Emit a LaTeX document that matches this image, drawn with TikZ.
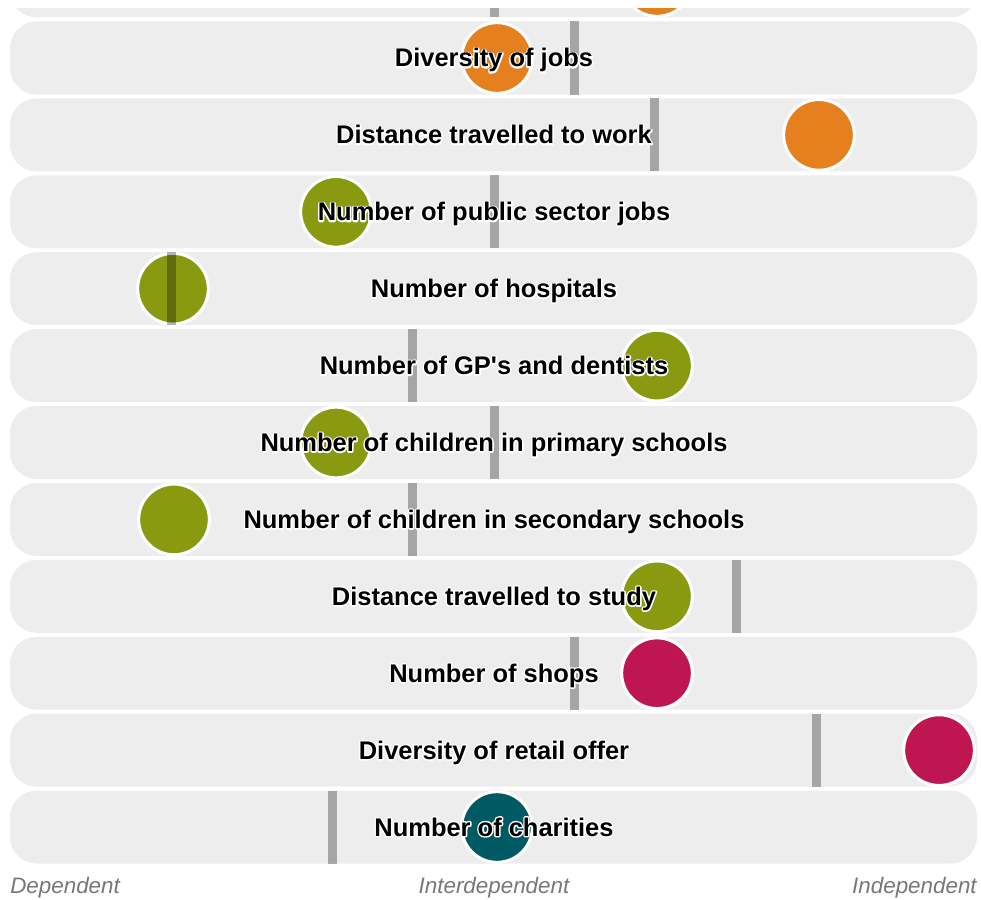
\documentclass[tikz,border=0pt]{standalone}
\usepackage{fontspec}
\setmainfont{Liberation Sans}
\usetikzlibrary{calc}
\definecolor{rowbg}{HTML}{EDEDED}
\definecolor{corange}{HTML}{E6801E}
\definecolor{colive}{HTML}{8A9A10}
\definecolor{ccrimson}{HTML}{BE1650}
\definecolor{cteal}{HTML}{005A64}
\definecolor{axisgray}{HTML}{787878}
\tikzset{
  rowbox/.style={rectangle, rounded corners=20pt, fill=rowbg, minimum width=725.25pt, minimum height=54.75pt, inner sep=0pt},
  dot/.style={circle, fill=#1, draw=white, line width=2.25pt, minimum size=53pt, inner sep=0pt},
  bar/.style={rectangle, fill=black, fill opacity=0.3, minimum width=6.75pt, minimum height=54.75pt, inner sep=0pt},
  lbl/.style={font=\bfseries\fontsize{19.1pt}{20pt}\selectfont, anchor=base, inner sep=0pt},
  axislbl/.style={font=\itshape\fontsize{16.8pt}{18pt}\selectfont, text=axisgray, anchor=base, inner sep=0pt}
}
\newcommand\halolabel[3]{%
  \node[lbl,text=white] at (#2) {\special{pdf:literal direct 1 Tr 1 1 1 RG 2.2 w 1 j 1 J}#3\special{pdf:literal direct 0 Tr 0.4 w 0 j 0 J}};
  \node[lbl] (#1) at (#2) {#3};}
\begin{document}
\begin{tikzpicture}[x=0.75pt,y=-0.75pt]
\useasboundingbox (0,0) rectangle (981,899);
% partial top row
\begin{scope}
\clip (0,9) rectangle (981,30);
\node[rowbox] (r0) at (493.5,-19) {};
\node[dot=corange] (c0) at (657,-19) {};
\node[bar] (b0) at (494,-19) {};
\end{scope}
% rows
\foreach \i/\lab/\cx/\col/\bx in {
 1/Diversity of jobs/497/corange/574,
 2/Distance travelled to work/819/corange/654,
 3/Number of public sector jobs/336/colive/494,
 4/Number of hospitals/173/colive/171,
 5/Number of GP\textquotesingle s and dentists/657/colive/412,
 6/Number of children in primary schools/336/colive/494,
 7/Number of children in secondary schools/174/colive/412,
 8/Distance travelled to study/657/colive/736,
 9/Number of shops/657/ccrimson/574,
 10/Diversity of retail offer/939/ccrimson/816,
 11/Number of charities/497/cteal/332}{
  \pgfmathsetmacro\yc{58+76.9*(\i-1)}
  \node[rowbox] (r\i) at (493.5,\yc) {};
  \node[dot=\col] (c\i) at (\cx,\yc) {};
  \node[bar] (b\i) at (\bx,\yc) {};
  \coordinate (t\i) at (494,\yc+9);
  \halolabel{l\i}{t\i}{\lab}
}
% axis labels
\node[axislbl, anchor=base west] (dep) at (10,893) {Dependent};
\node[axislbl] (inter) at (494,893) {Interdependent};
\node[axislbl, anchor=base east] (indep) at (977,893) {Independent};
\end{tikzpicture}
\end{document}
